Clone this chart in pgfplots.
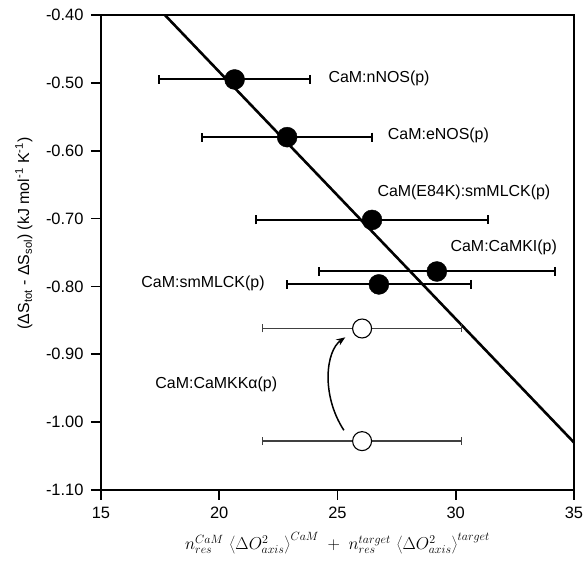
\documentclass[border=0pt]{standalone}
\usepackage{fontspec}
\setmainfont{Liberation Sans}
\usepackage{pgfplots}
\pgfplotsset{compat=1.18}
\usetikzlibrary{arrows.meta}

% filled points: x, y, x error
\pgfplotstableread{
x y ex
20.65 -0.495 3.2
22.87 -0.580 3.6
26.46 -0.702 4.9
29.20 -0.778 5.0
26.75 -0.797 3.9
}\filled
% open points (CaMKKalpha)
\pgfplotstableread{
x y ex
26.04 -0.862 4.2
26.04 -1.028 4.2
}\open

\begin{document}
\fontsize{16}{19}\selectfont
\begin{tikzpicture}
\begin{axis}[
    scale only axis,
    width=473bp,
    height=475bp,
    xmin=15, xmax=35,
    ymin=-1.10, ymax=-0.40,
    xtick={15,20,25,30,35},
    ytick={-1.1,-1.0,-0.9,-0.8,-0.7,-0.6,-0.5,-0.4},
    yticklabels={-1.10,-1.00,-0.90,-0.80,-0.70,-0.60,-0.50,-0.40},
    xticklabels={15,20,25,30,35},
    xtick pos=bottom,
    ytick pos=left,
    tick align=outside,
    major tick length=10bp,
    axis line style={line width=1.6bp},
    tick style={line width=1.6bp, black},
    tick label style={font=\fontsize{16.5}{19}\selectfont},
    xticklabel style={yshift=-2bp},
    yticklabel style={xshift=-2bp},
    xlabel={$n_{res}^{CaM}\,\left\langle \Delta O_{axis}^{2}\right\rangle^{CaM} \;+\; n_{res}^{target}\,\left\langle \Delta O_{axis}^{2}\right\rangle^{target}$},
    xlabel style={font=\fontsize{18}{22}\selectfont, at={(rel axis cs:0.5,-0.112)}, anchor=center},
    ylabel={(ΔS\textsubscript{tot} - ΔS\textsubscript{sol}) (kJ mol\textsuperscript{-1} K\textsuperscript{-1})},
    ylabel style={font=\fontsize{16}{19}\selectfont, at={(rel axis cs:-0.163,0.54)}, anchor=center},
    clip=false,
]
\coordinate (sw) at (rel axis cs:0,0);
\coordinate (ne) at (rel axis cs:1,1);

% fitted line
\addplot[line width=2.6bp, black, no marks] coordinates {(17.7,-0.40) (35,-1.03)};

% open points with thin grey bars
\addplot[only marks, mark=*, mark size=9.5bp,
    mark options={fill=white, draw=black, line width=1.1bp},
    error bars/.cd, x dir=both, x explicit,
    error bar style={line width=1.3bp, black!75},
    error mark options={rotate=90, line width=1.3bp, black!75, mark size=4bp}]
    table[x=x, y=y, x error=ex] {\open};

% filled points with thick bars
\addplot[only marks, mark=*, mark size=10bp,
    mark options={fill=black, draw=black},
    error bars/.cd, x dir=both, x explicit,
    error bar style={line width=2bp, black},
    error mark options={rotate=90, line width=2bp, black, mark size=4.5bp}]
    table[x=x, y=y, x error=ex] {\filled};

\node[anchor=west] at (axis cs:24.39,-0.493) {CaM:nNOS(p)};
\node[anchor=west] at (axis cs:26.90,-0.578) {CaM:eNOS(p)};
\node[anchor=west] at (axis cs:26.46,-0.662) {CaM(E84K):smMLCK(p)};
\node[anchor=west] at (axis cs:29.55,-0.743) {CaM:CaMKI(p)};
\node[anchor=east] at (axis cs:22.15,-0.795) {CaM:smMLCK(p)};
\node[anchor=west] at (axis cs:17.07,-0.945) {CaM:CaMKKα(p)};

\draw[-{Stealth[length=9bp,width=7bp]}, line width=1.5bp]
    (axis cs:25.27,-1.012) .. controls (axis cs:24.3,-0.96) and (axis cs:24.5,-0.895) .. (axis cs:25.33,-0.875);
\end{axis}
\pgfresetboundingbox
\path ([shift={(-101bp,-73bp)}]sw) rectangle ([shift={(11bp,15bp)}]ne);
\end{tikzpicture}
\end{document}
